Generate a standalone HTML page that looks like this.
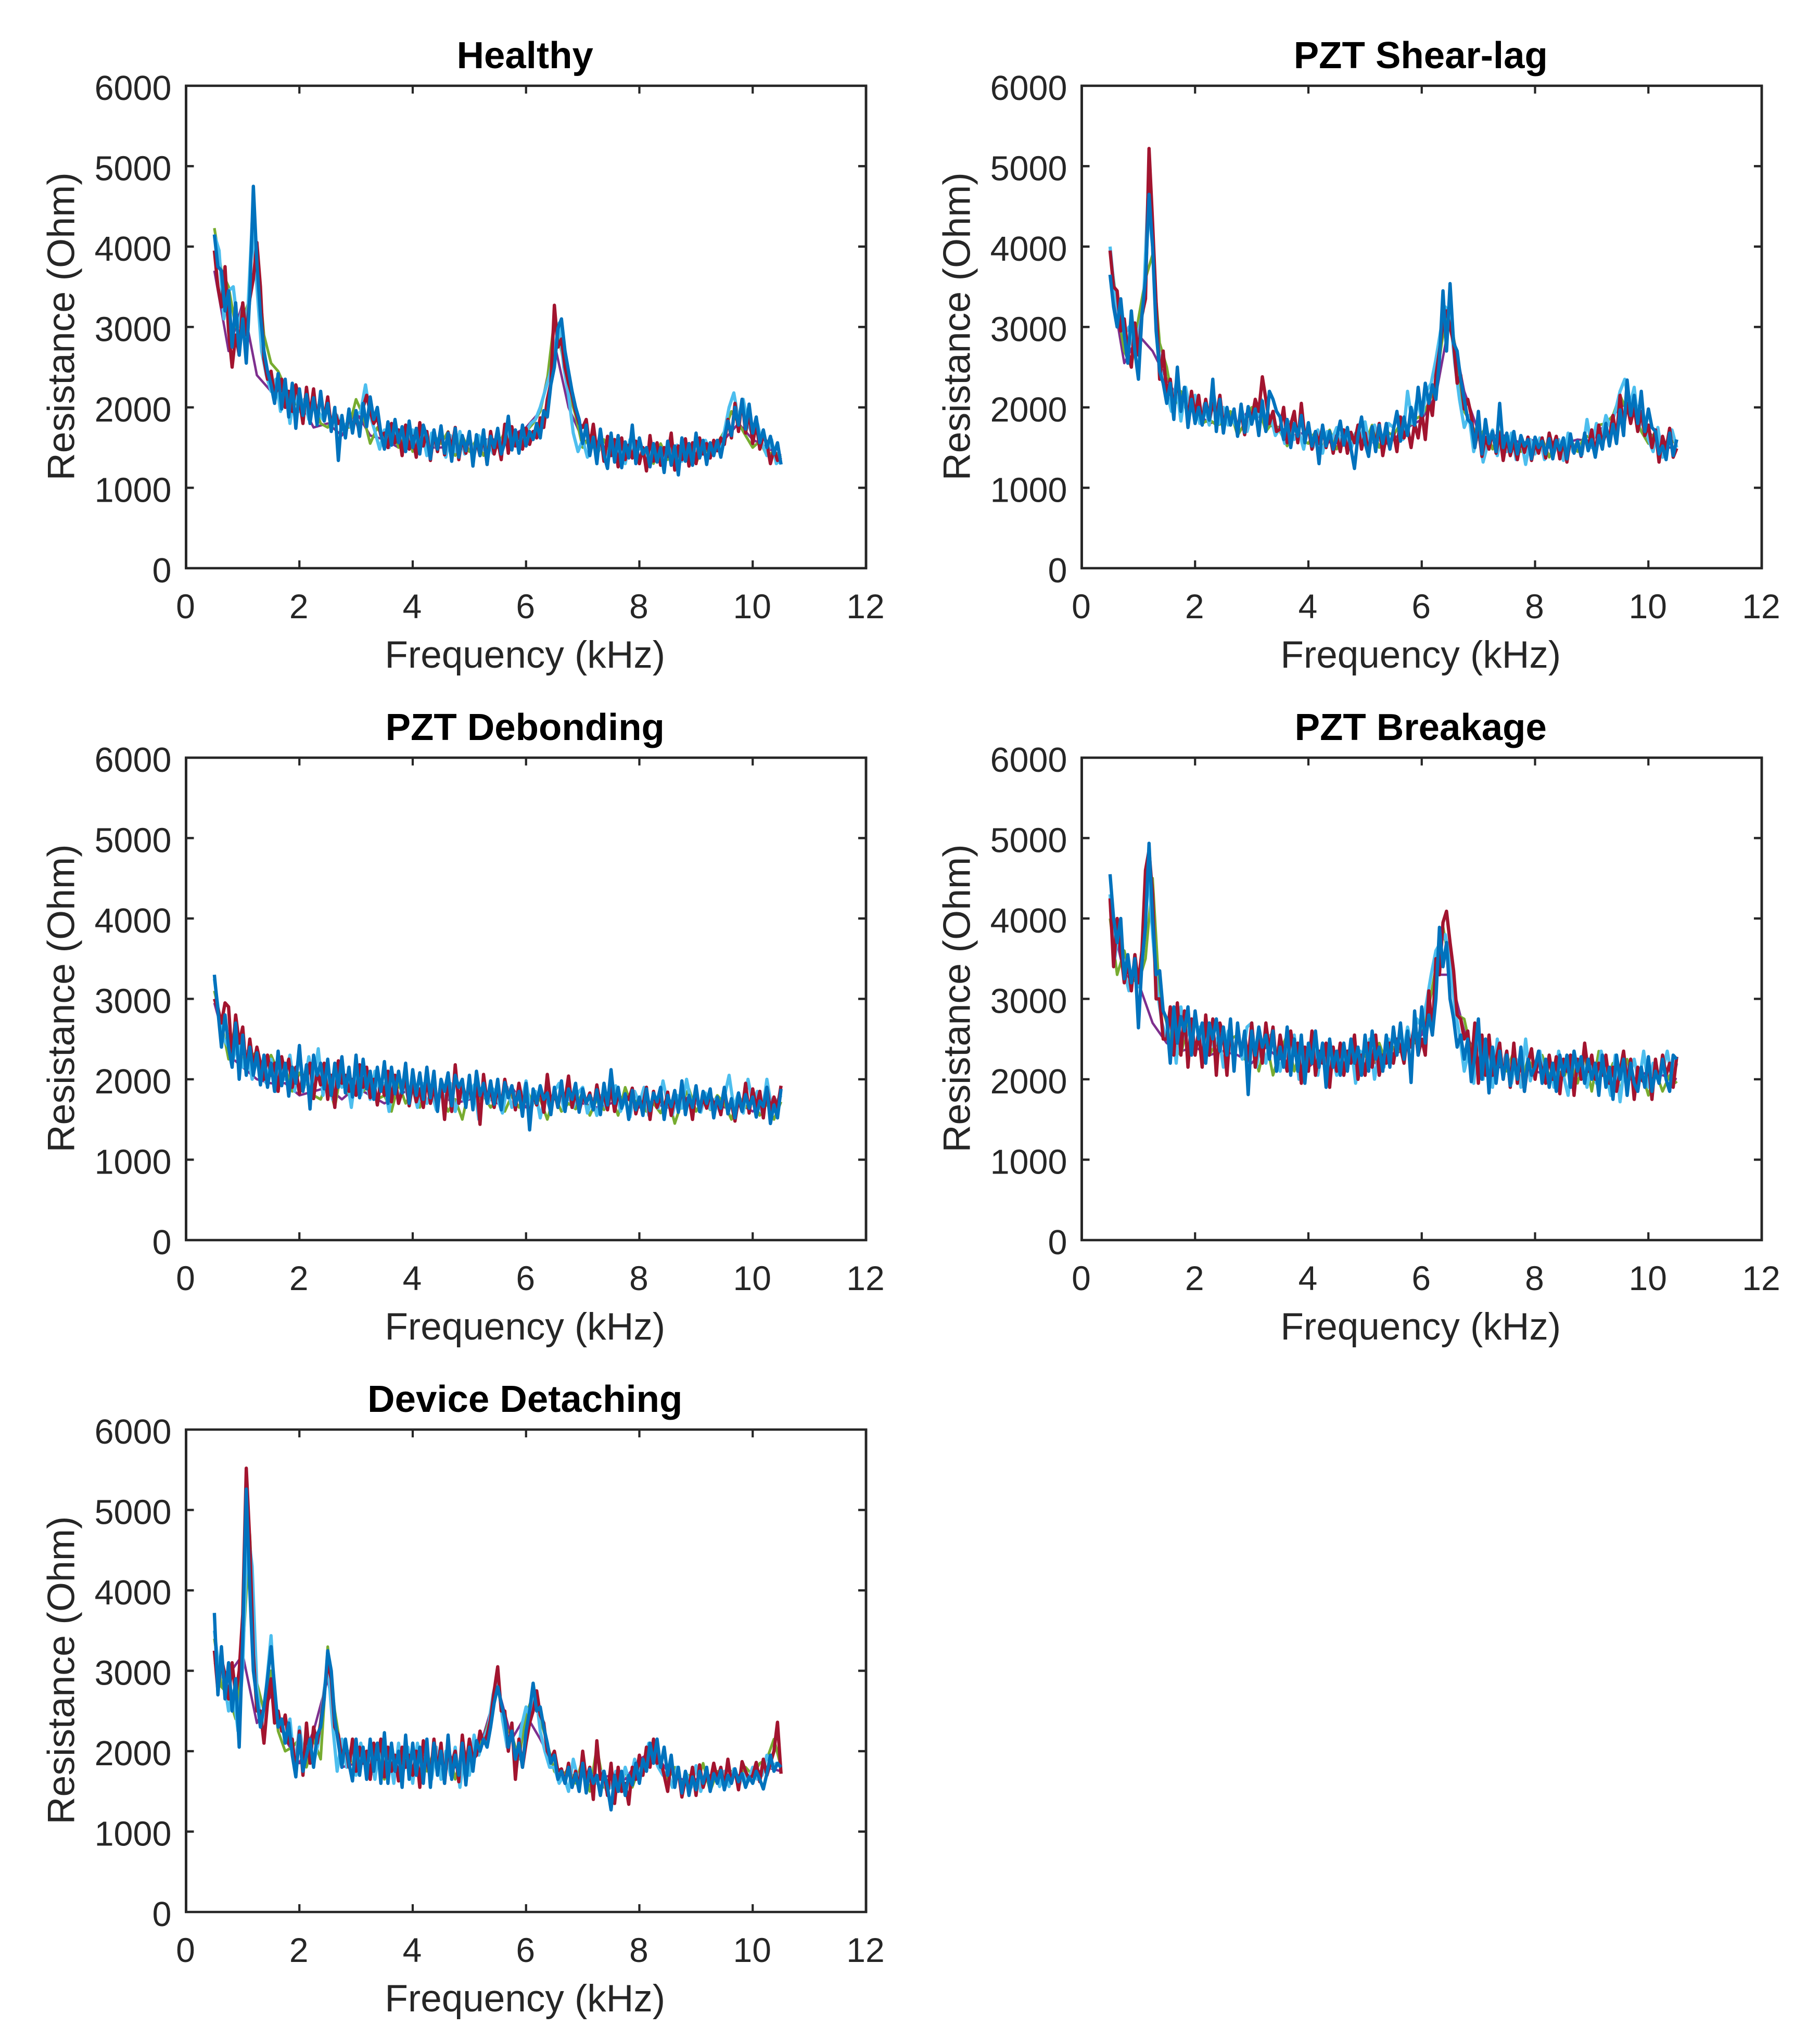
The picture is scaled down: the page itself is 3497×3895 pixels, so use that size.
<!DOCTYPE html>
<html>
<head>
<meta charset="utf-8">
<title>Resistance vs Frequency</title>
<style>
html,body{margin:0;padding:0;background:#fff;}
svg{display:block;}
text{font-family:"Liberation Sans",Arial,sans-serif;fill:#262626;}
</style>
</head>
<body>
<svg id="figure" xmlns="http://www.w3.org/2000/svg" width="3497" height="3895" viewBox="0 0 3497 3895"></svg>
<script>
const xTicks = [0, 2, 4, 6, 8, 10, 12];
const yTicks = [0, 1000, 2000, 3000, 4000, 5000, 6000];
const xRange = [0, 12];
const yRange = [0, 6000];
const freqRange = [0.5, 10.5];
const panelTitles = ["Healthy", "PZT Shear-lag", "PZT Debonding", "PZT Breakage", "Device Detaching"];
const seriesNames = ["purple", "green", "light-blue", "red", "blue"];
const seriesColors = ["#7E2F8E", "#77AC30", "#4DBEEE", "#A2142F", "#0072BD"];
const seriesWidths = [4.6, 5.2, 6.2, 6.4, 6.4];

const healthyPurple = [3700,2700,3300,2400,2200,2050,2100,1750,1800,1650,1950,1650,1600,1500,1650,1500,1500,1550,1450,1600,1600,1650,1750,1950,2800,2000,1600,1500,1500,1400,1480,1500,1400,1480,1400,1550,1600,1800,1600,1500,1400];
const healthyGreen = [4230,3700,3500,3000,3100,3350,3900,2900,2550,2450,2250,2100,2000,1950,2050,1800,1750,1900,1800,1750,2100,1900,1550,1750,1600,1750,1500,1750,1450,1700,1450,1650,1550,1700,1400,1650,1450,1600,1400,1600,1500,1700,1550,1650,1700,1800,1950,2350,3100,2700,2200,1900,1500,1650,1400,1600,1400,1550,1330,1500,1350,1500,1300,1550,1350,1500,1400,1550,1300,1550,1400,1550,1700,1950,1800,1650,1500,1580,1400,1450,1380];
const healthyLightBlue = [4150,3950,3100,3450,3500,3000,3250,3100,4300,3500,2700,2400,2200,2350,1950,2250,1800,2200,1950,2100,1850,2100,1950,1850,2000,1800,1900,1720,1800,1750,1900,1950,2280,1900,1700,1480,1720,1500,1750,1560,1690,1500,1720,1450,1700,1400,1680,1500,1700,1380,1650,1450,1700,1420,1640,1400,1650,1470,1600,1430,1680,1500,1720,1550,1650,1600,1700,1800,1850,2000,2200,2400,2700,3050,2500,2150,1680,1450,1600,1380,1620,1420,1550,1350,1550,1400,1500,1300,1600,1380,1520,1420,1500,1350,1490,1300,1560,1380,1530,1330,1550,1420,1560,1400,1590,1450,1570,1500,1700,2000,2180,1850,2100,1800,1650,1800,1550,1400,1600,1300,1350];
const healthyRed = [3950,3500,3250,3750,2950,2500,2900,2650,3300,2900,3350,3600,4050,3500,2600,2350,2450,2150,2250,2350,2000,2200,1950,2280,2100,1800,2250,1900,2230,1820,2180,1850,2130,1750,1950,1800,1850,1650,1900,1780,1850,1700,2000,2150,1950,1800,1880,1650,1680,1500,1800,1560,1720,1400,1780,1480,1640,1380,1810,1520,1700,1340,1690,1450,1730,1410,1690,1480,1750,1350,1620,1430,1680,1330,1590,1400,1650,1290,1700,1420,1600,1350,1790,1430,1760,1520,1680,1480,1740,1540,1700,1620,1870,1750,2100,2300,3270,2750,2850,2500,2300,2150,1950,1800,1750,1850,1500,1790,1450,1690,1330,1640,1400,1600,1260,1620,1350,1530,1370,1580,1300,1500,1210,1650,1330,1560,1280,1500,1390,1680,1220,1520,1350,1610,1270,1560,1300,1620,1420,1550,1370,1590,1460,1620,1540,1850,1620,2050,1700,2100,1680,1950,1550,1800,1480,1650,1560,1300,1480,1340,1380];
const healthyBlue = [4150,3750,3700,3200,3450,2750,3300,2650,3100,2550,3400,4750,3800,3150,2700,2450,2280,2050,2420,1980,2350,1880,2300,1740,2230,1900,2160,1800,2120,1780,2200,1830,2050,1700,2000,1340,1900,1620,1980,1680,1960,1640,2050,1760,2130,1850,2000,1680,1480,1820,1530,1850,1560,1760,1450,1830,1500,1740,1420,1780,1620,1360,1720,1480,1770,1430,1680,1330,1740,1380,1650,1460,1700,1270,1660,1400,1720,1290,1640,1500,1740,1420,1560,1890,1470,1720,1430,1780,1520,1700,1600,1800,1620,1960,1880,2280,2500,2980,3100,2700,2450,2200,2000,1850,1550,1780,1400,1630,1300,1730,1410,1240,1680,1320,1650,1250,1570,1370,1780,1300,1620,1420,1500,1260,1550,1320,1500,1190,1580,1280,1520,1160,1620,1330,1550,1280,1680,1370,1590,1290,1560,1400,1590,1380,1620,1830,1650,2000,1780,2100,1730,2040,1680,1880,1560,1720,1500,1640,1420,1560,1290];

const shearPurple = [3600,2550,2900,2700,2350,2050,1950,1800,1850,1800,2000,1780,1750,1650,1700,1500,1650,1620,1650,1500,1600,1750,1850,2150,3100,2200,1700,1650,1650,1550,1600,1500,1550,1600,1580,1800,2000,2100,1700,1500,1500];
const shearGreen = [3950,3250,2700,2500,3100,3600,3900,2800,2500,2000,2200,1900,2050,1800,1850,1780,1800,1950,1650,1800,2000,2000,1700,1820,1700,1520,1750,1600,1550,1700,1500,1720,1480,1680,1600,1720,1550,1780,1500,1700,1650,1800,1750,1850,1900,2050,2300,2900,3250,2500,1950,1800,1600,1750,1480,1700,1500,1600,1450,1580,1500,1620,1380,1600,1450,1600,1450,1650,1620,1780,1800,1900,2150,1950,1950,1700,1550,1700,1500,1600,1550];
const shearLightBlue = [4000,3400,3100,2900,3000,2700,2950,3200,4600,4000,2900,2350,2200,1950,2300,1830,2250,1950,2150,1800,2050,1780,2150,1800,2000,1780,1850,1730,1950,1700,1920,1850,2100,1780,1900,1650,1750,1550,1820,1600,1700,1480,1780,1500,1720,1430,1700,1600,1750,1540,1700,1480,1680,1600,1820,1500,1780,1600,1550,1800,1750,1900,1600,2200,1800,2100,1850,2200,2300,2600,2950,3250,3150,2550,2100,1750,1900,1450,1700,1320,1550,1720,1400,1650,1450,1680,1350,1620,1290,1600,1420,1620,1350,1680,1430,1600,1340,1680,1450,1580,1420,1850,1500,1800,1620,1900,1750,1950,2200,2350,2000,2250,1750,1900,1600,1450,1750,1380,1580,1720,1500];
const shearRed = [3950,3500,3450,2950,3100,2700,2500,3050,2650,3150,3350,5220,4300,3300,2350,2700,2150,2350,1960,2380,2000,2200,1850,2200,1900,2150,1800,2100,1850,2050,1880,2150,1760,1980,1800,1950,1720,1950,1660,2000,1850,2100,1950,2380,2100,1800,1950,1700,1730,2000,1560,1780,1950,1560,2050,1620,1750,1480,1700,1550,1760,1500,1680,1430,1650,1450,1720,1430,1690,1560,1780,1480,1680,1430,1750,1530,1800,1400,1650,1490,1700,1450,1880,1620,1750,1500,1800,1620,1950,1600,2100,1900,2400,2700,3050,3200,3000,2800,2300,2400,1980,2100,1900,1500,1780,1390,1630,1480,1700,1430,1680,1340,1620,1400,1570,1350,1600,1440,1630,1340,1560,1430,1620,1370,1680,1500,1640,1360,1600,1320,1610,1450,1580,1390,1660,1500,1720,1400,1780,1540,1680,1620,1900,1620,2150,1750,2050,1800,2000,1700,1950,1650,1780,1500,1720,1320,1640,1480,1740,1380,1490];
const shearBlue = [3650,3250,3000,3350,2900,2550,3200,2700,2350,3150,3600,4650,4000,2950,2450,2300,2050,2300,1850,2500,1950,2250,1750,2100,1800,2000,1780,2050,1840,2350,1700,2100,1680,2000,1780,1980,1640,2040,1690,2010,1790,1980,1650,2080,1700,2200,2100,1950,1880,1600,1850,1500,1800,1640,1900,1560,1810,1520,1700,1300,1780,1520,1700,1480,1620,1830,1530,1750,1490,1240,1650,1880,1560,1390,1760,1450,1780,1550,1800,1480,1720,1950,1580,1880,1650,2000,1780,2250,1900,2300,2050,2280,2100,2600,3450,2700,3540,2800,2700,2350,2100,1850,1800,1500,1950,1420,1850,1550,1700,1450,2050,1500,1680,1450,1700,1420,1650,1520,1600,1360,1630,1500,1580,1420,1610,1360,1590,1470,1620,1360,1670,1430,1580,1400,1680,1460,1600,1380,1650,1480,1800,1520,1790,1550,1970,1650,2340,1900,2150,1800,2200,1700,1980,1750,1700,1420,1520,1350,1680,1400,1600];

const debondPurple = [2950,2300,2150,2000,1950,1950,1800,1850,1900,1750,1900,1800,1700,1800,1900,1750,1800,1700,1750,1800,1700,1900,1650,1800,1750,1800,1700,1650,1700,1800,1650,1700,1650,1800,1700,1750,1650,1700,1600,1750,1700];
const debondGreen = [3100,2700,2250,2700,2200,2250,2350,2100,2300,2100,2150,1850,2080,1950,1800,1750,1980,1650,2150,1800,2050,1850,1950,1750,1800,1600,1950,1700,1850,1650,1900,1750,1800,1600,1750,1500,1900,1700,1800,1650,1750,1600,1800,1650,1880,1700,1750,1500,1800,1600,1700,1630,1850,1550,1750,1620,1800,1550,1900,1650,1780,1600,1700,1580,1800,1450,1720,1880,1600,1750,1620,1800,1700,1500,1800,1650,1750,1550,1700,1500,1720];
const debondLightBlue = [3250,2800,2500,2400,2250,2500,2150,2350,2000,2250,2100,1950,2250,1850,2230,2000,2300,1850,2350,1900,2280,1950,2380,1800,2100,1750,2200,1900,2050,1650,2100,1800,2000,1750,2100,1850,1950,1600,2050,1700,2000,1780,1900,1650,1950,1700,1850,1620,1900,1700,1950,1600,1850,1720,1780,1930,1500,1850,1700,1880,1750,1580,1900,1650,1830,1700,1980,1600,1850,1520,1800,1650,1850,1950,1620,1790,1650,1830,1900,1580,1760,1550,1800,1640,1780,1920,1600,1750,1530,1850,1700,1900,1550,1820,1640,1980,1700,1560,1800,1640,2000,1700,1750,1590,1830,1630,1750,1600,1780,2050,1650,1830,1580,2000,1700,1850,1580,2000,1650,1720,1800];
const debondRed = [3000,2880,2700,2950,2900,2250,2800,2450,2650,2100,2500,2150,2400,2200,2000,2300,2050,2200,1850,2280,2050,2250,1900,2150,1820,2050,2000,2200,1760,2100,1930,2200,1750,2050,1650,2230,1950,2050,1850,2000,1800,2180,1900,2150,1770,2000,1680,1980,1800,2100,1720,2050,1700,1850,2000,1670,1950,1720,1880,1650,2000,1700,1900,1650,1980,1500,2020,1600,2180,1700,1950,1760,1900,1680,1950,1440,2060,1720,1880,1650,1900,1650,2000,1770,1920,1620,1950,1720,1830,1500,1820,1680,1900,1590,2060,1700,1850,1650,1900,1730,2040,1650,1850,1600,1780,1700,1830,1620,1930,1690,1800,1620,1900,1600,1830,1660,1800,1750,1890,1570,1740,1680,1900,1500,1850,1650,1780,1620,1840,1550,1790,1630,1870,1700,1780,1500,1900,1600,1770,1640,1820,1680,1750,1560,1860,1630,1700,1480,1750,1600,1950,1580,1880,1650,1850,1520,1900,1620,1780,1650,1920];
const debondBlue = [3300,2850,2400,2800,2400,2150,2700,2000,2550,2050,2400,2050,2330,1930,2300,1900,2200,1850,2350,1920,2200,1790,2150,1950,2420,1850,2180,1630,2300,2050,2200,1880,2250,1800,2200,1900,2280,1830,2150,1780,2300,1770,2250,1880,2100,1750,2150,1850,2220,1700,2150,1820,2100,1830,2200,1700,2120,1800,2080,1750,2150,1770,2100,1600,2000,1850,2080,1670,2050,1900,2000,1650,2050,1620,2100,1800,1950,1700,1980,1690,2000,1620,1960,1770,1920,1680,1850,1540,1950,1370,1880,1700,1920,1750,1830,1560,1900,1650,1980,1600,1880,1750,1950,1590,1880,1700,1800,1620,1870,1560,1950,1680,2120,1700,1900,1640,1820,1500,1860,1620,1780,1550,1880,1610,1830,1720,1900,1500,1800,1660,1860,1590,1980,1560,1800,1650,1920,1600,1850,1700,1880,1520,1780,1640,1900,1570,1760,1520,1830,1600,1810,1640,1780,1530,1730,1660,1900,1450,1680,1520,1880];

const breakPurple = [4100,3300,3200,2700,2450,2350,2400,2300,2350,2300,2200,2400,2250,2350,2150,2300,2300,2250,2350,2150,2300,2400,2550,3300,3300,2600,2250,2150,2150,2100,2100,2050,2100,2100,2050,2100,2000,2000,2100,2050,2000];
const breakGreen = [4000,3300,3600,3250,3200,3500,4500,3000,2700,2400,2300,2700,2400,2600,2300,2450,2250,2500,2550,2250,2450,2100,2500,2050,2350,2550,2100,2400,2150,2350,2250,2100,2350,2100,2400,2200,2300,2150,2450,2200,2400,2350,2500,2450,2650,2900,3400,3900,3400,2800,2750,2350,2150,2300,2050,2300,2100,2350,1950,2250,2100,2300,2050,2150,2000,2250,1950,2300,1850,2350,1950,2200,1850,2250,1900,2100,1800,2100,1850,2050,1950];
const breakLightBlue = [4300,3500,3950,3350,3100,3400,3150,3700,4700,3800,3100,2700,2500,2750,2200,2900,2500,2700,2300,2650,2250,2700,2400,2550,2150,2600,2300,2550,2250,2650,2700,2150,2500,2200,2550,2400,2100,2400,2200,2550,2000,2400,2200,2550,2050,2450,1950,2300,2050,2400,2150,2450,1950,2350,2100,2500,2000,2350,2150,2500,2200,2500,2300,2650,2400,2750,2650,2950,3300,3600,3700,3800,3450,2900,2550,2100,2350,1950,2550,2000,2400,1900,2500,2150,2350,1950,2250,1900,2500,1980,2200,2350,2000,2300,1900,2350,2050,1800,2300,2050,2250,1900,2200,1950,2350,2100,1800,2300,1720,2200,2050,2250,1950,2350,1900,2200,2000,2100,2350,2000,2200];
const breakRed = [4250,3400,4000,3600,3200,3450,3100,3550,3200,3600,4600,4850,4300,3000,3000,2500,2500,2900,2300,2950,2300,2850,2150,2750,2300,2600,2150,2800,2300,2750,2050,2700,2550,2050,2700,2200,2600,2350,2550,2250,2700,2150,2550,2200,2700,2350,2650,2150,2550,2300,2100,2600,2300,2450,1950,2400,2100,2600,2050,2350,2200,2450,1900,2400,2100,2450,2050,2350,2200,2550,2000,2300,2050,2450,2150,2550,2050,2300,2200,2450,2200,2500,2400,2200,2550,2400,2700,2300,2500,2300,3100,2550,3500,3300,3950,4090,3700,3350,2800,2750,2500,2600,2150,2700,1950,2550,2050,2550,2050,2250,2450,2000,2350,1900,2450,1950,2300,1850,2200,2380,2000,2300,2100,1950,2300,2000,2280,1820,2250,2100,2300,1800,2250,2000,2450,2100,2300,2000,2200,2050,2300,1950,2150,1850,2100,2350,1950,2250,1750,2150,2000,1950,2200,1750,2250,1950,2300,2050,2200,1900,2280];
const breakBlue = [4550,4000,3700,4000,3250,3550,3200,3500,2640,3450,3900,4935,4000,3300,3350,2850,2750,2200,2900,2450,2780,2600,2900,2300,2850,2500,2700,2200,2700,2500,2750,2350,2650,2300,2750,2100,2700,2300,2600,1810,2600,2300,2650,2400,2550,2250,2600,2100,2400,2150,2650,2050,2500,2100,2550,1950,2450,2200,2600,2150,2450,1900,2500,2150,2350,2050,2450,2100,2500,2200,2400,2050,2550,2100,2600,2250,2400,2100,2550,2150,2650,2300,2700,2250,2600,1960,2850,2300,2900,2450,2800,2550,3000,3890,3400,3700,3000,2750,2400,2550,2250,2500,1970,2300,2750,2000,2500,1830,2400,1950,2350,2000,2300,1920,2250,2000,2400,1850,2250,2050,2150,2350,1950,2250,1900,2200,1850,2300,2050,2300,1900,2350,2100,2280,1950,2250,2000,2200,1800,2300,1900,2150,1750,2300,2000,2250,1800,2200,1950,1850,2150,1900,2280,1850,2100,1950,2250,2000,1850,2300,2250];

const detachPurple = [3100,2950,3200,2350,2700,2150,1850,2250,2900,1800,1850,1900,1850,1800,1950,1800,1850,1800,1950,2200,2800,2150,2450,2150,1800,1700,1700,1650,1700,1650,1900,2000,1750,1650,1650,1700,1650,1700,1700,1800,1750];
const detachGreen = [3400,2800,2700,2400,3200,4700,2850,2500,3000,2250,2000,2050,2150,1800,2150,1900,3300,2500,1950,2000,1750,1950,1800,2000,1650,1950,1750,1950,1650,2000,1750,2000,1700,2050,1650,2000,1800,2050,2150,2450,2800,2300,2200,1900,2450,2700,2400,2100,1750,1650,1800,1600,1900,1500,2050,1550,1700,1500,1750,1550,1800,1850,2000,1800,1650,1800,1600,1700,1550,1850,1500,1750,1600,1750,1650,1800,1700,1850,1900,2150,1800];
const detachLightBlue = [3500,3000,2900,2500,2750,2250,3050,4800,4300,2800,2300,2800,3437,2500,2350,2150,2400,1800,2300,1900,2100,1850,2100,2650,3100,2350,1750,2150,1800,2050,1700,2100,1800,1950,1650,2080,1750,2000,1600,2100,1750,2050,1600,2100,1750,1950,1650,2050,1650,2000,1700,2050,1550,2000,1700,2200,1950,2150,2300,2700,2950,2400,2050,2200,1800,2300,2550,2400,2750,2250,2000,1800,1800,1600,1700,1500,1900,1650,1800,1600,1700,1600,1750,1520,1550,1750,1500,1800,1600,1900,1750,1850,2100,1950,1800,1700,1750,1550,1800,1500,1720,1550,1820,1500,1700,1600,1750,1560,1750,1560,1780,1550,1720,1620,1800,1650,1700,1950,1800,1850,1800];
const detachRed = [3250,2750,3150,2950,2650,3100,2700,3000,3700,5520,4600,3200,2500,2500,2100,2600,2900,2350,2500,2250,2450,2100,2150,1700,2250,1700,2350,1850,2300,2100,2350,2700,3100,2900,2300,2200,1900,2100,1800,2150,1750,2050,1850,2000,1650,2100,1900,2150,1680,2050,1750,1950,1630,2050,1800,1950,1700,2000,1550,2130,1900,1650,2150,1750,2100,1600,2050,1850,2000,1620,2200,1800,2150,1900,1950,2250,2100,2200,2400,2750,3050,2500,2500,2000,2350,1650,2150,1800,2100,2350,2500,2750,2450,2350,2000,1900,2000,1750,1780,1600,1850,1550,1750,1530,2000,1650,1800,1400,2130,1650,1750,1450,1850,1350,1800,1500,1600,1340,1800,1650,1950,1700,2050,1800,2150,1850,1900,1700,1500,1900,1600,1750,1430,1650,1550,1800,1450,1830,1550,1700,1620,1850,1650,1800,1550,1900,1600,1780,1520,1870,1750,1650,1700,1860,1620,1900,1700,1850,2000,2360,1720];
const detachBlue = [3720,2700,3300,2650,3100,2500,2900,2050,3400,5260,4000,3000,2650,2300,2550,2900,3300,2800,2300,2400,2100,2350,1950,1680,2200,1750,1950,2150,1800,2200,2300,2650,3250,3000,2400,2100,1800,2150,1850,1630,2150,1700,2050,1650,2150,1750,2100,1600,2230,1600,2100,1750,2000,1550,2200,1650,2100,1700,2050,1600,2150,1550,2100,1700,2000,1600,2200,1650,1950,1700,2100,1580,2050,1750,2130,2000,2150,2050,2300,2600,2800,2600,2400,2050,2250,1900,2100,1800,2250,2500,2845,2500,2550,2300,2100,1850,1950,1650,1750,1600,1800,1550,1720,1500,1850,1480,1780,1600,1700,1450,1750,1550,1270,1700,1500,1750,1450,1700,1580,1850,1600,1900,1750,2100,1850,2150,1800,2050,1700,1950,1550,1800,1480,1750,1450,1680,1520,1750,1600,1800,1500,1720,1600,1760,1520,1700,1600,1780,1620,1720,1550,1680,1600,1750,1650,1530,1720,1950,1750,1850,1800];

const panelSeries = [
  [healthyPurple, healthyGreen, healthyLightBlue, healthyRed, healthyBlue],
  [shearPurple, shearGreen, shearLightBlue, shearRed, shearBlue],
  [debondPurple, debondGreen, debondLightBlue, debondRed, debondBlue],
  [breakPurple, breakGreen, breakLightBlue, breakRed, breakBlue],
  [detachPurple, detachGreen, detachLightBlue, detachRed, detachBlue]
];

const NS = "http://www.w3.org/2000/svg";
const figure = document.getElementById("figure");
const AX_W = 1306.5, AX_H = 927, COL_GAP = 1721, ROW_GAP = 1291.1, LEFT0 = 357.5, TOP0 = 164.8;
const INK = "#262626";

function svgEl(tag, parent) {
  const el = document.createElementNS(NS, tag);
  parent.appendChild(el);
  return el;
}
function xScale(v, left) { return left + (v - xRange[0]) / (xRange[1] - xRange[0]) * AX_W; }
function yScale(v, top) { return top + AX_H - (v - yRange[0]) / (yRange[1] - yRange[0]) * AX_H; }
function seg(parent, x1, y1, x2, y2, w) {
  const l = svgEl("line", parent);
  l.setAttribute("x1", x1); l.setAttribute("y1", y1);
  l.setAttribute("x2", x2); l.setAttribute("y2", y2);
  l.setAttribute("stroke", INK); l.setAttribute("stroke-width", w);
  return l;
}
function label(parent, str, x, y, size, anchor, weight) {
  const t = svgEl("text", parent);
  t.textContent = str;
  t.setAttribute("x", x); t.setAttribute("y", y);
  t.setAttribute("font-size", size);
  t.setAttribute("text-anchor", anchor);
  if (weight) t.setAttribute("font-weight", weight);
  return t;
}

panelTitles.forEach(function (title, p) {
  const left = LEFT0 + (p % 2) * COL_GAP;
  const top = TOP0 + Math.floor(p / 2) * ROW_GAP;
  const bottom = top + AX_H, right = left + AX_W;
  const slug = title.toLowerCase().replace(/[^a-z]+/g, "-");

  const g = svgEl("g", figure);
  
  

  panelSeries[p].forEach(function (vals, s) {
    const pts = vals.map(function (v, i) {
      const f = freqRange[0] + i * (freqRange[1] - freqRange[0]) / (vals.length - 1);
      return xScale(f, left).toFixed(1) + "," + yScale(v, top).toFixed(1);
    }).join(" ");
    const line = svgEl("polyline", g);
    line.setAttribute("points", pts);
    line.setAttribute("fill", "none");
    line.setAttribute("stroke", seriesColors[s]);
    line.setAttribute("stroke-width", seriesWidths[s]);
    line.setAttribute("stroke-linejoin", "round");
    
    
  });

  const box = svgEl("g", g);
  
  
  seg(box, left - 2.4, top, right + 2.4, top, 4.6);
  seg(box, left - 2.4, bottom, right + 2.4, bottom, 4.6);
  seg(box, left, top, left, bottom, 4.9);
  seg(box, right, top, right, bottom, 4.9);

  xTicks.forEach(function (v) {
    const x = xScale(v, left);
    if (v !== xRange[0] && v !== xRange[1]) {
      seg(box, x, bottom, x, bottom - 15, 4.2);
      seg(box, x, top, x, top + 15, 4.2);
    }
    const t = label(g, String(v), x - 1, bottom + 96, 66, "middle");
    
    
  });
  yTicks.forEach(function (v) {
    const y = yScale(v, top);
    if (v !== yRange[0] && v !== yRange[1]) {
      seg(box, left, y, left + 15, y, 4.4);
      seg(box, right, y, right - 15, y, 4.4);
    }
    const t = label(g, String(v), left - 28, y + 27, 66.5, "end");
    
    
  });

  const titleEl = label(g, title, left + AX_W / 2 - 2, top - 34, 72.6, "middle", "bold");
  titleEl.style.fill = "#000";
  
  

  const xl = label(g, "Frequency (kHz)", left + AX_W / 2 - 2, bottom + 191, 72.9, "middle");
  
  

  const yl = label(g, "Resistance (Ohm)", 0, 0, 73.5, "middle");
  yl.setAttribute("transform", "translate(" + (left - 215) + "," + (top + AX_H / 2 - 1) + ") rotate(-90)");
  
  
});
</script>
</body>
</html>
